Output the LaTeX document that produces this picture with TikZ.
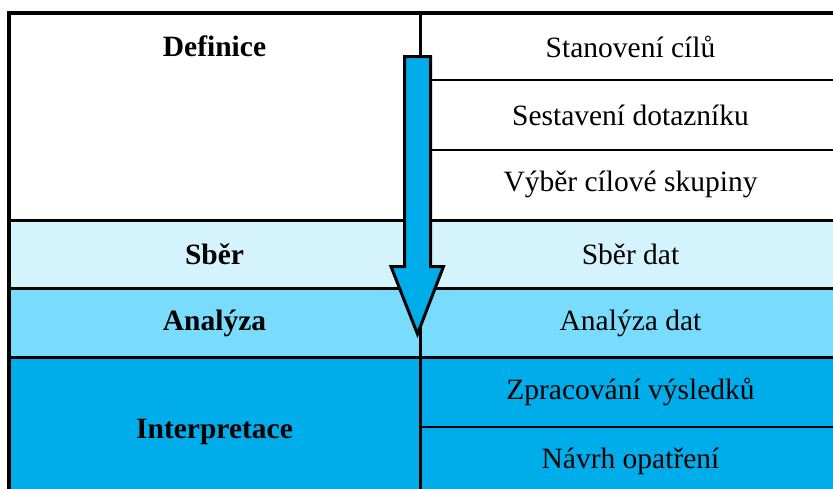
\documentclass[tikz,border=0pt]{standalone}
\usepackage{fontspec}
\setmainfont{Liberation Serif}
\usetikzlibrary{positioning}
\definecolor{sbercol}{HTML}{D5F3FD}
\definecolor{analcol}{HTML}{7ADCFD}
\definecolor{interpcol}{HTML}{00ADEB}
\tikzset{node distance=69.2pt,
    every node/.style={
        font=\fontsize{29.5}{34}\selectfont,
        anchor=base,
        inner sep=0pt},
    phase/.style={
        font=\fontsize{29.5}{34}\selectfont\bfseries},
    rule/.style={
        draw=black,
        line width=3pt},
    thinrule/.style={
        draw=black,
        line width=2.5pt},
    flow/.style={
        draw=black,
        line width=3pt,
        fill=interpcol}}

\begin{document}
\begin{tikzpicture}[x=1pt,y=-1pt]
        \useasboundingbox (0,0) rectangle (833,488);

        % row fills
        \fill[sbercol] (9,220) rectangle (845,288);
        \fill[analcol] (9,288) rectangle (845,357);
        \fill[interpcol] (9,357) rectangle (845,500);

        % grid
        \draw[rule] (420,13) -- (420,500);
        \draw[rule] (9,220) -- (845,220);
        \draw[rule] (9,288) -- (845,288);
        \draw[rule] (9,357) -- (845,357);
        \draw[thinrule] (420,80) -- (845,80);
        \draw[thinrule] (420,150) -- (845,150);
        \draw[thinrule] (420,427) -- (845,427);
        \draw[line width=4pt] (9,500) -- (9,12.7) -- (845,12.7);

        % arrow
        \draw[flow] (404.5,56.5) -- (430.5,56.5) -- (430.5,266.5) -- (443.5,266.5)
            -- (417.5,334) -- (391,266.5) -- (404.5,266.5) -- cycle;

        % right column
        \node (stanoveni) at (630.5,57) {Stanovení cílů};
        \node[below of=stanoveni] (sestaveni) {Sestavení dotazníku};
        \node[below of=sestaveni] (vyber) {Výběr cílové skupiny};
        \node[below of=vyber] (sberdat) {Sběr dat};
        \node[below of=sberdat] (analyzadat) {Analýza dat};
        \node[below of=analyzadat] (zpracovani) {Zpracování výsledků};
        \node[below of=zpracovani] (navrh) {Návrh opatření};

        % left column
        \node[phase,left of=stanoveni,node distance=416pt] (definice) {Definice};
        \node[phase,left of=sberdat,node distance=416pt] (sber) {Sběr};
        \node[phase,left of=analyzadat,node distance=416pt] (analyza) {Analýza};
        \node[phase] (interpretace) at (214.5,438) {Interpretace};
    \end{tikzpicture}
\end{document}
